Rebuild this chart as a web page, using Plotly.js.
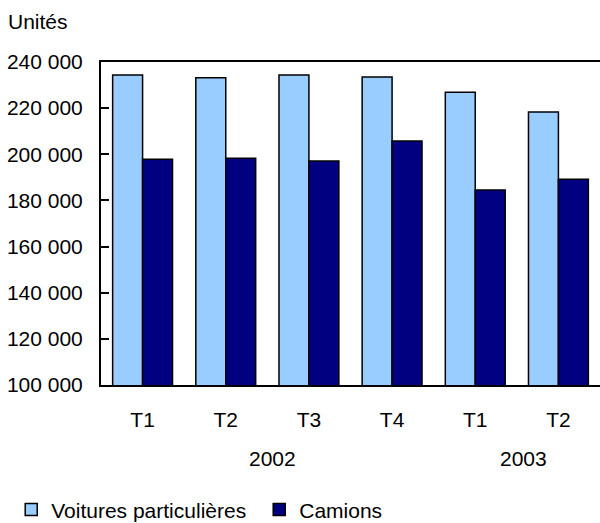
<!DOCTYPE html>
<html>
<head>
<meta charset="utf-8">
<script src="https://cdn.plot.ly/plotly-3.0.1.min.js"></script>
<style>
html,body{margin:0;padding:0;overflow:hidden;background:#fff;}
#chart{width:600px;height:523px;}
</style>
</head>
<body>
<div id="chart"></div>
<script>
// Data
const quarters = ['T1', 'T2', 'T3', 'T4', 'T1', 'T2'];
const years = ['2002', '2003'];
const yearCenters = [1.56, 4.58];   // position of year labels along the category axis
const voitures = [234400, 233200, 234400, 233500, 226900, 218300];
const camions  = [197800, 198300, 197100, 205800, 184500, 189200];
const seriesNames = ['Voitures particulières', 'Camions'];
const yTitle = 'Unités';

const idx = quarters.map((q, i) => i);
const FONT = 'Liberation Sans, Arial, sans-serif';
const FS = 21;

const traces = [
  {
    type: 'bar', x: idx, y: voitures, name: seriesNames[0],
    marker: {color: '#99CCFF', line: {color: '#000000', width: 1.5}},
    hoverinfo: 'y'
  },
  {
    type: 'bar', x: idx, y: camions, name: seriesNames[1],
    marker: {color: '#000080', line: {color: '#000000', width: 1.5}},
    hoverinfo: 'y'
  }
];

const annotations = [
  {text: yTitle, xref: 'paper', yref: 'paper', x: -0.19, y: 1.125,
   xanchor: 'left', yanchor: 'middle', showarrow: false,
   font: {family: FONT, size: FS, color: '#000'}}
].concat(years.map((yr, i) => ({
  text: yr, xref: 'x', yref: 'paper', x: yearCenters[i], y: -0.228,
  xanchor: 'center', yanchor: 'middle', showarrow: false,
  font: {family: FONT, size: FS, color: '#000'}
})));

const layout = {
  width: 600, height: 523,
  margin: {l: 101, r: 0, t: 62, b: 138, pad: 0},
  paper_bgcolor: '#fff', plot_bgcolor: '#fff',
  separators: ', ',
  font: {family: FONT, size: FS, color: '#000'},
  barmode: 'group',
  bargap: 0.28,
  bargroupgap: 0,
  showlegend: true,
  legend: {
    orientation: 'h', xref: 'container', yref: 'container',
    x: 0.0187, y: 0.025, xanchor: 'left', yanchor: 'middle',
    entrywidth: 203,
    font: {family: FONT, size: FS, color: '#000'},
    traceorder: 'normal', itemclick: false, itemdoubleclick: false
  },
  xaxis: {
    type: 'linear', range: [-0.5, 5.5],
    tickmode: 'array', tickvals: idx, ticktext: quarters,
    showline: true, linecolor: '#000', linewidth: 2, mirror: true,
    ticks: '', showgrid: false, zeroline: false,
    ticklabelstandoff: 15,
    tickfont: {family: FONT, size: FS, color: '#000'}
  },
  yaxis: {
    range: [100000, 240000], dtick: 20000, tick0: 100000,
    tickformat: ',d',
    showline: true, linecolor: '#000', linewidth: 2, mirror: false,
    ticks: 'inside', ticklen: 8, tickwidth: 2, tickcolor: '#000',
    showgrid: false, zeroline: false,
    ticklabelstandoff: 12,
    tickfont: {family: FONT, size: FS, color: '#000'}
  },
  annotations: annotations
};

Plotly.newPlot('chart', traces, layout, {displayModeBar: false, staticPlot: true});
</script>
</body>
</html>
